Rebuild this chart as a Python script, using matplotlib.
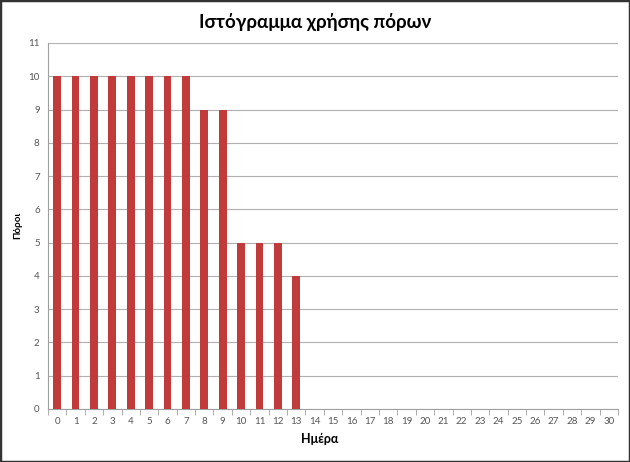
import matplotlib
matplotlib.use("Agg")
import matplotlib.pyplot as plt
from matplotlib.patches import Rectangle
import numpy as np

days = list(range(31))
resources = [10, 10, 10, 10, 10, 10, 10, 10, 9, 9, 5, 5, 5, 4] + [0] * 17
title = "Ιστόγραμμα χρήσης πόρων"
xlabel = "Ημέρα"
ylabel = "Πόροι"

plt.rcParams['font.family'] = ['Lato', 'DejaVu Sans']

fig = plt.figure(figsize=(6.30, 4.62), dpi=100)
ax = fig.add_axes([48/630, 1 - 409/462, 570/630, 366/462])

ax.bar(days, resources, width=0.42, color='#C23B3B', zorder=3)
ax.set_xlim(-0.5, 30.5)
ax.set_ylim(0, 11)
ax.set_yticks(range(12))
ax.set_xticks(days)
ax.set_xticks(np.arange(-0.5, 31, 1), minor=True)
ax.tick_params(axis='both', labelsize=7, colors='#555555')
ax.tick_params(axis='x', which='major', length=0, pad=6)
ax.tick_params(axis='x', which='minor', length=4, color='#A0A0A0')
ax.tick_params(axis='y', length=0, pad=6)
ax.grid(axis='y', color='#B0B0B0', linewidth=0.8, zorder=0)
for s in ['top', 'right']:
    ax.spines[s].set_visible(False)
for s in ['left', 'bottom']:
    ax.spines[s].set_color('#A0A0A0')

fig.text(315/630, 1 - 22/462, title, ha='center', va='center', fontsize=13.5, fontweight='bold')
fig.text(320/630, 1 - 439/462, xlabel, ha='center', va='center', fontsize=9, fontweight='bold')
fig.text(18/630, 1 - 225/462, ylabel, ha='center', va='center', fontsize=7, fontweight='bold', rotation=90)

fig.patches.append(Rectangle((0, 0), 1, 1, transform=fig.transFigure, fill=False,
                             edgecolor='#333333', linewidth=2.5))
fig.savefig("out.png", dpi=100)
